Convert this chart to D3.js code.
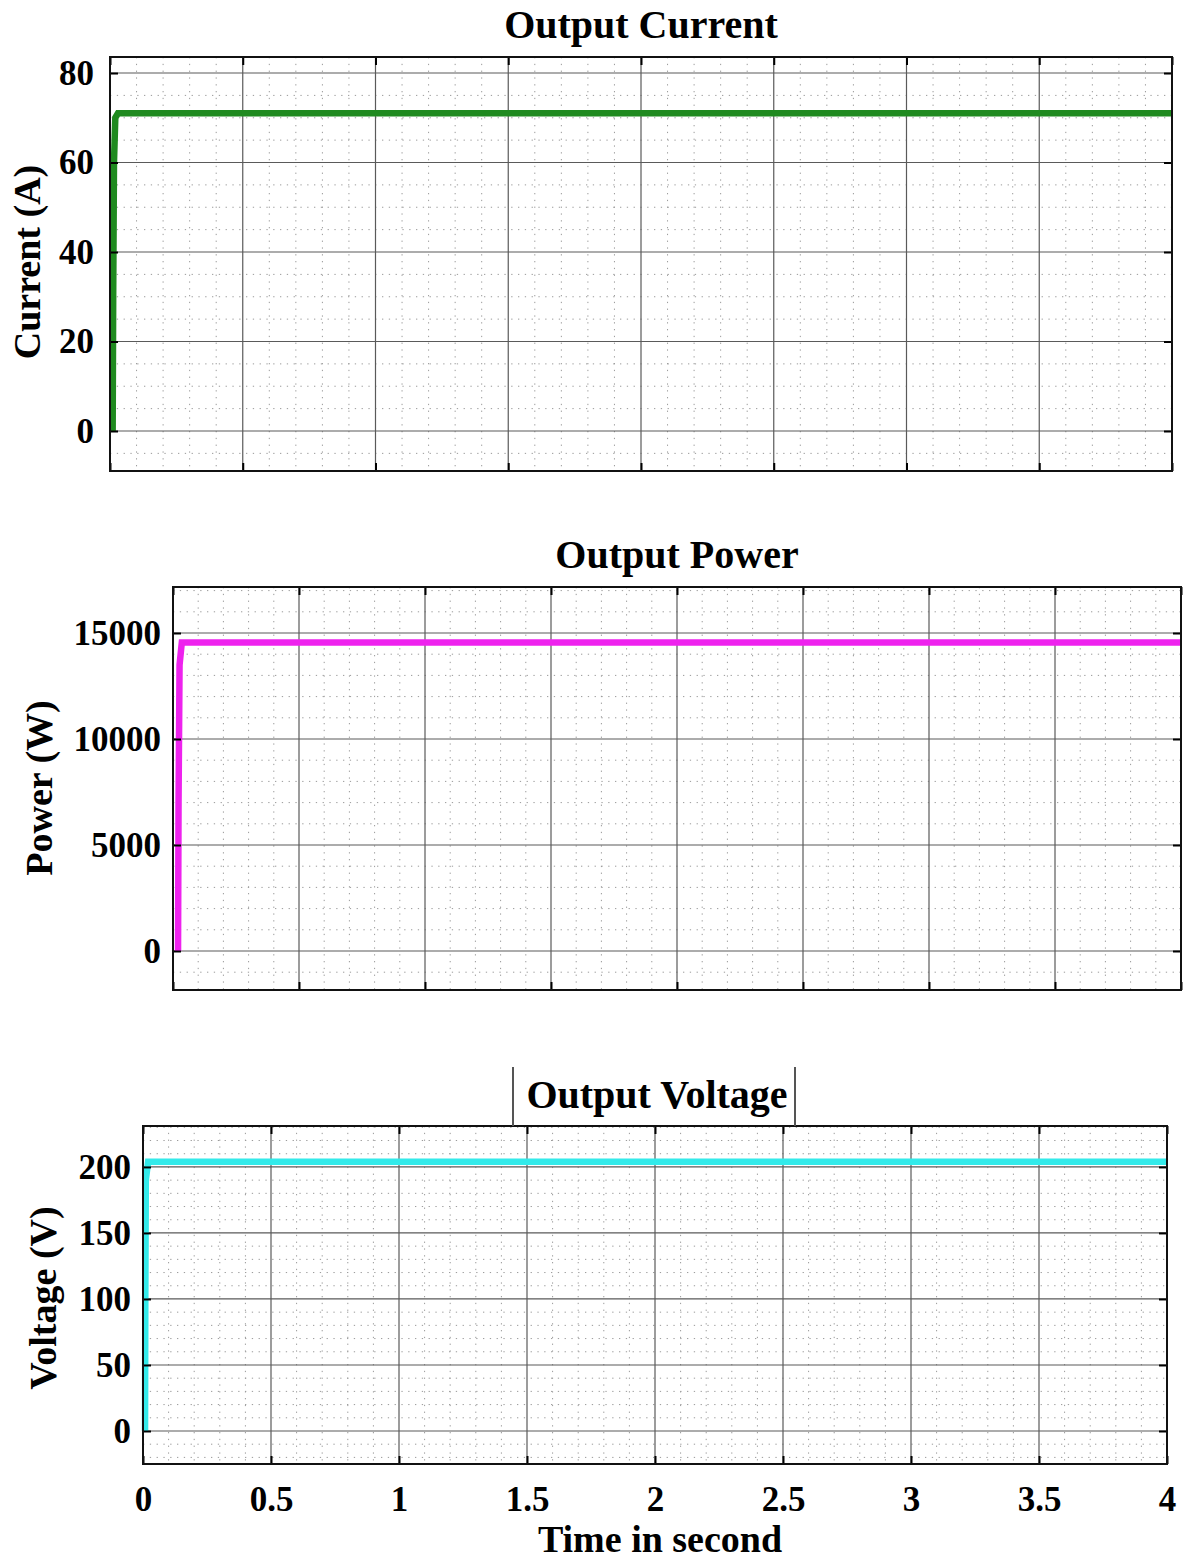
<!DOCTYPE html>
<html><head><meta charset="utf-8">
<script src="https://cdn.jsdelivr.net/npm/d3@7"></script>
<style>body{margin:0;background:#fff}svg{display:block}</style>
</head><body>
<svg id="c" width="1183" height="1561"></svg>
<script>
// ---- data ----
const timeTicks = [0, 0.5, 1, 1.5, 2, 2.5, 3, 3.5, 4];
const timeTickLabels = ["0", "0.5", "1", "1.5", "2", "2.5", "3", "3.5", "4"];
const currentTicks = [0, 20, 40, 60, 80];
const powerTicks = [0, 5000, 10000, 15000];
const voltageTicks = [0, 50, 100, 150, 200];
// series: [time (s), value]
const currentSeries = [[0.01, 0], [0.012, 30], [0.015, 60], [0.02, 70], [0.03, 71], [4, 71]];
const powerSeries = [[0.02, 0], [0.022, 7000], [0.026, 13500], [0.035, 14550], [4, 14550]];
const voltageSeries = [[0.008, 0], [0.009, 100], [0.011, 190], [0.02, 204], [4, 204]];

const svg = d3.select("#c");
const FONT = "'Liberation Serif','Times New Roman',serif";

const panels = [
  {title: "Output Current", ylabel: "Current (A)", left: 110, right: 1172, top: 57, bottom: 471,
   ydom: [-8.94, 83.58], yticks: currentTicks, yminor: 5, series: currentSeries, color: "#1f8a1f",
   titleX: 641, titleY: 38, ylabX: 40, ylabY: 262, xlabels: false, pad: 16},
  {title: "Output Power", ylabel: "Power (W)", left: 173, right: 1181, top: 587, bottom: 990,
   ydom: [-1840, 17170], yticks: powerTicks, yminor: 1000, series: powerSeries, color: "#ee22ee",
   titleX: 677, titleY: 568, ylabX: 52, ylabY: 788, xlabels: false, pad: 12},
  {title: "Output Voltage", ylabel: "Voltage (V)", left: 143, right: 1167, top: 1126, bottom: 1464,
   ydom: [-25, 231], yticks: voltageTicks, yminor: 10, series: voltageSeries, color: "#33eaea",
   titleX: 657, titleY: 1108, ylabX: 56, ylabY: 1298, xlabels: true, titleBox: [513, 795, 1067], pad: 12}
];

panels.forEach(p => {
  const x = d3.scaleLinear().domain([0, 4]).range([p.left, p.right]);
  const y = d3.scaleLinear().domain(p.ydom).range([p.bottom, p.top]);
  const g = svg.append("g");

  // minor grid
  const xMinor = d3.range(0, 4.0001, 0.1).filter(v => Math.abs(v * 2 - Math.round(v * 2)) > 1e-6);
  const yMinor = d3.range(Math.ceil(p.ydom[0] / p.yminor) * p.yminor, p.ydom[1], p.yminor)
      .filter(v => !p.yticks.some(t => Math.abs(t - v) < 1e-6));
  g.selectAll(".xm").data(xMinor).join("line")
    .attr("x1", d => x(d)).attr("x2", d => x(d)).attr("y1", p.top).attr("y2", p.bottom)
    .attr("stroke", "#9a9a9a").attr("stroke-width", 1).attr("stroke-dasharray", "1.3,5.5");
  g.selectAll(".ym").data(yMinor).join("line")
    .attr("x1", p.left).attr("x2", p.right).attr("y1", d => y(d)).attr("y2", d => y(d))
    .attr("stroke", "#9a9a9a").attr("stroke-width", 1).attr("stroke-dasharray", "1.3,5.5");

  // major grid
  g.selectAll(".xg").data(timeTicks).join("line")
    .attr("x1", d => x(d)).attr("x2", d => x(d)).attr("y1", p.top).attr("y2", p.bottom)
    .attr("stroke", "#5a5a5a").attr("stroke-width", 1.2);
  g.selectAll(".yg").data(p.yticks).join("line")
    .attr("x1", p.left).attr("x2", p.right).attr("y1", d => y(d)).attr("y2", d => y(d))
    .attr("stroke", "#5a5a5a").attr("stroke-width", 1.2);

  // series
  const line = d3.line().x(d => x(d[0])).y(d => y(d[1]));
  g.append("path").datum(p.series).attr("d", line)
    .attr("fill", "none").attr("stroke", p.color).attr("stroke-width", 6.5)
    .attr("stroke-linejoin", "miter");

  // axes (ticks inside, no domain)
  const yL = d3.axisLeft(y).tickValues(p.yticks).tickSize(-8).tickPadding(p.pad).tickFormat(d3.format("d"));
  const yR = d3.axisRight(y).tickValues(p.yticks).tickSize(-8).tickFormat("");
  const xB = d3.axisBottom(x).tickValues(timeTicks).tickSize(-8).tickPadding(22)
      .tickFormat((d, i) => p.xlabels ? timeTickLabels[i] : "");
  const xT = d3.axisTop(x).tickValues(timeTicks).tickSize(-8).tickFormat("");
  [[yL, `translate(${p.left},0)`], [yR, `translate(${p.right},0)`],
   [xB, `translate(0,${p.bottom})`], [xT, `translate(0,${p.top})`]].forEach(([ax, tr]) => {
    const a = g.append("g").attr("transform", tr).call(ax);
    a.select(".domain").remove();
    a.selectAll(".tick line").attr("stroke", "#000").attr("stroke-width", 2);
    a.selectAll("text").attr("font-family", FONT).attr("font-weight", "bold")
      .attr("font-size", 35).attr("fill", "#000");
  });

  // box
  g.append("rect").attr("x", p.left).attr("y", p.top)
    .attr("width", p.right - p.left).attr("height", p.bottom - p.top)
    .attr("fill", "none").attr("stroke", "#111").attr("stroke-width", 2);

  // title
  g.append("text").attr("x", p.titleX).attr("y", p.titleY).attr("text-anchor", "middle")
    .attr("font-family", FONT).attr("font-weight", "bold").attr("font-size", 40)
    .text(p.title);
  if (p.titleBox) {
    [p.titleBox[0], p.titleBox[1]].forEach(bx => {
      g.append("line").attr("x1", bx).attr("x2", bx).attr("y1", p.titleBox[2]).attr("y2", p.top)
        .attr("stroke", "#555").attr("stroke-width", 2);
    });
  }

  // y label
  g.append("text").attr("transform", `translate(${p.ylabX},${p.ylabY}) rotate(-90)`)
    .attr("text-anchor", "middle").attr("font-family", FONT).attr("font-weight", "bold")
    .attr("font-size", 38).text(p.ylabel);

  if (p.xlabels) {
    g.append("text").attr("x", 660).attr("y", 1552).attr("text-anchor", "middle")
      .attr("font-family", FONT).attr("font-weight", "bold").attr("font-size", 38)
      .text("Time in second");
  }
});
</script>
</body></html>
